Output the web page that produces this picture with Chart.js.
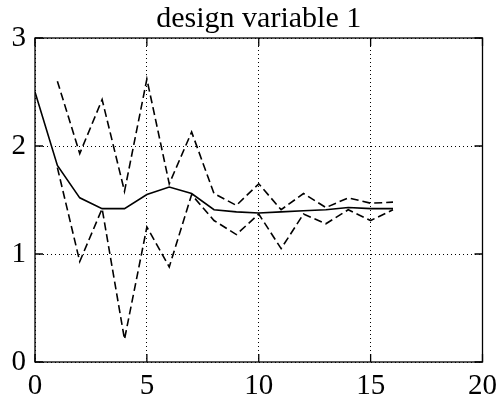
<!DOCTYPE html>
<html>
<head>
<meta charset="utf-8">
<script src="https://cdn.jsdelivr.net/npm/chart.js@4/dist/chart.umd.min.js"></script>
<style>
  html, body { margin: 0; padding: 0; background: #fff; }
  #wrap { width: 504px; height: 406px; }
</style>
</head>
<body>
<div id="wrap"><canvas id="c" width="504" height="406"></canvas></div>
<script>
// Iteration index and design variable history
const iterations = [0, 1, 2, 3, 4, 5, 6, 7, 8, 9, 10, 11, 12, 13, 14, 15, 16];
const meanValue  = [2.50, 1.82, 1.52, 1.42, 1.42, 1.55, 1.62, 1.56, 1.41, 1.39, 1.38, 1.39, 1.40, 1.41, 1.43, 1.42, 1.42];
const boundIters = [1, 2, 3, 4, 5, 6, 7, 8, 9, 10, 11, 12, 13, 14, 15, 16];
const boundA     = [2.60, 1.93, 2.43, 1.58, 2.62, 1.65, 2.13, 1.56, 1.45, 1.65, 1.41, 1.56, 1.43, 1.52, 1.47, 1.48];
const boundB     = [1.80, 0.93, 1.42, 0.21, 1.25, 0.88, 1.55, 1.31, 1.18, 1.37, 1.05, 1.37, 1.28, 1.41, 1.31, 1.41];
const xTicks = [0, 5, 10, 15, 20];
const yTicks = [0, 1, 2, 3];
const titleText = 'design variable 1';

const pts = (xs, ys) => xs.map((x, i) => ({ x: x, y: ys[i] }));
const serif = 'Liberation Serif, Times New Roman, serif';

// Solid frame plus inward tick marks on all four sides
const frameTicks = {
  id: 'frameTicks',
  afterDraw(chart) {
    const { ctx, chartArea: a, scales } = chart;
    const len = 8;
    ctx.save();
    ctx.strokeStyle = '#000';
    ctx.lineWidth = 1.3;
    ctx.beginPath();
    scales.x.ticks.forEach(t => {
      const px = scales.x.getPixelForValue(t.value);
      ctx.moveTo(px, a.bottom); ctx.lineTo(px, a.bottom - len);
      ctx.moveTo(px, a.top); ctx.lineTo(px, a.top + len);
    });
    scales.y.ticks.forEach(t => {
      const py = scales.y.getPixelForValue(t.value);
      ctx.moveTo(a.left, py); ctx.lineTo(a.left + len, py);
      ctx.moveTo(a.right, py); ctx.lineTo(a.right - len, py);
    });
    ctx.stroke();
    ctx.strokeRect(a.left, a.top, a.right - a.left, a.bottom - a.top);
    ctx.restore();
  }
};

new Chart(document.getElementById('c'), {
  type: 'line',
  data: {
    datasets: [
      { data: pts(iterations, meanValue), borderColor: '#000', borderWidth: 1.6, pointRadius: 0, tension: 0 },
      { data: pts(boundIters, boundA), borderColor: '#000', borderWidth: 1.6, borderDash: [8, 4], pointRadius: 0, tension: 0 },
      { data: pts(boundIters, boundB), borderColor: '#000', borderWidth: 1.6, borderDash: [8, 4], pointRadius: 0, tension: 0 }
    ]
  },
  options: {
    responsive: false,
    animation: false,
    events: [],
    layout: { padding: { left: 0, right: 21, top: 0, bottom: 0 } },
    plugins: {
      legend: { display: false },
      tooltip: { enabled: false },
      title: {
        display: true,
        fullSize: false,   // centre the title over the plot area only
        text: titleText,
        color: '#000',
        font: { family: serif, size: 30, weight: 'normal', lineHeight: 1.2 },
        padding: { top: 1.5, bottom: 0.5 }
      }
    },
    scales: {
      x: {
        type: 'linear',
        min: 0, max: 20,
        afterBuildTicks: s => { s.ticks = xTicks.map(v => ({ value: v })); },
        afterFit: s => { s.height = 44; },
        grid: { color: '#000', lineWidth: 1, drawTicks: false },
        border: { display: false, dash: [1, 3] },
        ticks: { color: '#000', padding: 7, maxRotation: 0, font: { family: serif, size: 29, lineHeight: 1.2 } }
      },
      y: {
        type: 'linear',
        min: 0, max: 3,
        afterBuildTicks: s => { s.ticks = yTicks.map(v => ({ value: v })); },
        afterFit: s => { s.width = 35; },
        grid: { color: '#000', lineWidth: 1, drawTicks: false },
        border: { display: false, dash: [1, 3] },
        ticks: { color: '#000', padding: 9, font: { family: serif, size: 29, lineHeight: 1.2 } }
      }
    }
  },
  plugins: [frameTicks]
});
</script>
</body>
</html>
